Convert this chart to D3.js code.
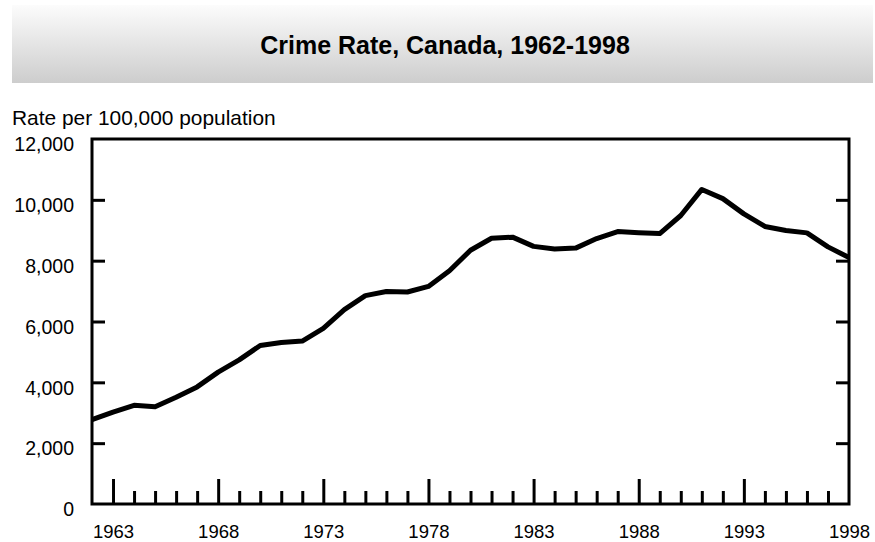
<!DOCTYPE html>
<html>
<head>
<meta charset="utf-8">
<script src="https://cdn.jsdelivr.net/npm/d3@7"></script>
<style>
  body { margin: 0; background: #fff; }
  svg text { font-family: "Liberation Sans", Arial, sans-serif; fill: #000; }
</style>
</head>
<body>
<main></main>
<script>
const width = 875;
const height = 542;
const margin = {top: 139, right: 26, bottom: 38, left: 92};

const years = [1962, 1963, 1964, 1965, 1966, 1967, 1968, 1969, 1970, 1971, 1972, 1973,
               1974, 1975, 1976, 1977, 1978, 1979, 1980, 1981, 1982, 1983, 1984, 1985,
               1986, 1987, 1988, 1989, 1990, 1991, 1992, 1993, 1994, 1995, 1996, 1997, 1998];
const crimeRate = [2771, 3022, 3245, 3199, 3511, 3850, 4336, 4737, 5212, 5311, 5355, 5773,
                   6388, 6852, 6984, 6971, 7154, 7666, 8343, 8736, 8773, 8470, 8387, 8413,
                   8727, 8957, 8919, 8892, 9485, 10342, 10040, 9538, 9125, 8994, 8914, 8453, 8102];
const yTicks = [0, 2000, 4000, 6000, 8000, 10000, 12000];
const xLabelYears = [1963, 1968, 1973, 1978, 1983, 1988, 1993, 1998];
const majorTickYears = [1963, 1968, 1973, 1978, 1983, 1988, 1993];
const minorTickYears = years.filter(y => y > 1962 && y < 1998 && !majorTickYears.includes(y));

const svg = d3.select('main')
              .append('svg')
              .attr('width', width)
              .attr('height', height);

// title box with grey gradient
const defs = svg.append('defs');
const grad = defs.append('linearGradient')
                 .attr('id', 'titleGrad')
                 .attr('x1', 0).attr('y1', 0).attr('x2', 0).attr('y2', 1);
grad.append('stop').attr('offset', '0%').attr('stop-color', '#fcfcfc');
grad.append('stop').attr('offset', '100%').attr('stop-color', '#cdcdcd');

svg.append('rect')
   .attr('x', 12).attr('y', 5)
   .attr('width', 861).attr('height', 78)
   .attr('fill', 'url(#titleGrad)');

svg.append('text')
   .attr('x', 445).attr('y', 54)
   .attr('text-anchor', 'middle')
   .style('font-size', '25px')
   .style('font-weight', 'bold')
   .text('Crime Rate, Canada, 1962-1998');

svg.append('text')
   .attr('x', 12).attr('y', 125)
   .style('font-size', '20.9px')
   .text('Rate per 100,000 population');

const x = d3.scaleLinear()
            .domain([1962, 1998])
            .range([margin.left, width - margin.right]);
const y = d3.scaleLinear()
            .domain([0, 12000])
            .range([height - margin.bottom, margin.top]);

const x0 = x.range()[0], x1 = x.range()[1];
const y0 = y.range()[0], y1 = y.range()[1];

// y axis labels (left) and inner ticks on both sides
const inner = yTicks.filter(t => t > 0 && t < 12000);
svg.append('g')
   .attr('transform', 'translate(' + x0 + ',0)')
   .call(d3.axisLeft(y).tickValues(yTicks).tickSize(0).tickPadding(18).tickFormat(d3.format(',')))
   .call(g => g.select('.domain').remove())
   .call(g => g.selectAll('text').style('font-size', '19.5px').attr('dy', '0.6em'));

svg.append('g')
   .attr('transform', 'translate(' + x0 + ',0)')
   .call(d3.axisRight(y).tickValues(inner).tickSize(13).tickFormat(''))
   .call(g => g.select('.domain').remove())
   .call(g => g.selectAll('line').attr('stroke', '#000').attr('stroke-width', 3));

svg.append('g')
   .attr('transform', 'translate(' + x1 + ',0)')
   .call(d3.axisLeft(y).tickValues(inner).tickSize(13).tickFormat(''))
   .call(g => g.select('.domain').remove())
   .call(g => g.selectAll('line').attr('stroke', '#000').attr('stroke-width', 3));

// x axis ticks pointing up from the bottom
svg.append('g')
   .attr('transform', 'translate(0,' + y0 + ')')
   .call(d3.axisTop(x).tickValues(minorTickYears).tickSize(13).tickFormat(''))
   .call(g => g.select('.domain').remove())
   .call(g => g.selectAll('line').attr('stroke', '#000').attr('stroke-width', 3));

svg.append('g')
   .attr('transform', 'translate(0,' + y0 + ')')
   .call(d3.axisTop(x).tickValues(majorTickYears).tickSize(25).tickFormat(''))
   .call(g => g.select('.domain').remove())
   .call(g => g.selectAll('line').attr('stroke', '#000').attr('stroke-width', 3));

svg.append('g')
   .attr('transform', 'translate(0,' + y0 + ')')
   .call(d3.axisBottom(x).tickValues(xLabelYears).tickSize(0).tickPadding(21).tickFormat(d3.format('d')))
   .call(g => g.select('.domain').remove())
   .call(g => g.selectAll('text').style('font-size', '18.5px'));

// frame
svg.append('rect')
   .attr('x', x0).attr('y', y1)
   .attr('width', x1 - x0).attr('height', y0 - y1)
   .attr('fill', 'none')
   .attr('stroke', '#000')
   .attr('stroke-width', 3);

// the line
const line = d3.line()
               .x((d, i) => x(years[i]))
               .y(d => y(d));

svg.append('path')
   .datum(crimeRate)
   .attr('d', line)
   .attr('fill', 'none')
   .attr('stroke', '#000')
   .attr('stroke-width', 5)
   .attr('stroke-linejoin', 'round');
</script>
</body>
</html>
